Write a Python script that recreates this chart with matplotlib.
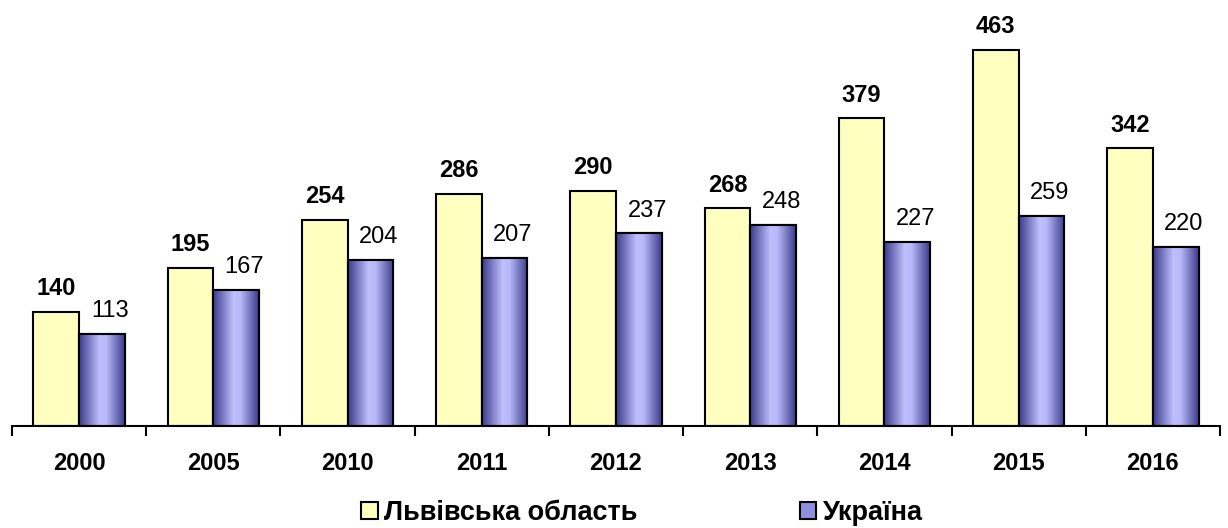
import numpy as np
import matplotlib.pyplot as plt
from matplotlib.colors import LinearSegmentedColormap
from matplotlib.patches import Rectangle

plt.rcParams['font.family'] = ['Liberation Sans', 'DejaVu Sans']

years = ['2000', '2005', '2010', '2011', '2012', '2013', '2014', '2015', '2016']
lviv = [140, 195, 254, 286, 290, 268, 379, 463, 342]
ukraine = [113, 167, 204, 207, 237, 248, 227, 259, 220]

fig = plt.figure(figsize=(12.28, 5.28), dpi=100)
ax = fig.add_axes([12 / 1228, 102.4 / 528, 1208 / 1228, 1 - 102.4 / 528])

x = np.arange(len(years))
w = 0.34
b1 = ax.bar(x - w / 2, lviv, w, color='#ffffc0', edgecolor='black', linewidth=1.5, zorder=2)
b2 = ax.bar(x + w / 2, ukraine, w, color='#b8b8ff', edgecolor='black', linewidth=1.5, zorder=2)

# horizontal gradient on Ukraine bars
cmap = LinearSegmentedColormap.from_list('g', [(0, '#3a3a8a'), (0.45, '#c0c0ff'), (0.6, '#b8b8fa'), (1, '#3a3a8a')])
grad = np.linspace(0, 1, 256).reshape(1, -1)
for r in b2:
    im = ax.imshow(grad, cmap=cmap, aspect='auto', zorder=2.5,
                   extent=[r.get_x(), r.get_x() + r.get_width(), 0, r.get_height()])
    im.set_clip_path(r)
    ax.add_patch(Rectangle((r.get_x(), 0), r.get_width(), r.get_height(),
                           fill=False, edgecolor='black', linewidth=1.5, zorder=3))

for r, v in zip(b1, lviv):
    ax.annotate(str(v), (r.get_x() + r.get_width() / 2, v), xytext=(0, 8.5),
                textcoords='offset points', ha='center', va='bottom',
                fontsize=17, fontweight='bold')
for r, v in zip(b2, ukraine):
    ax.annotate(str(v), (r.get_x() + r.get_width() / 2, v), xytext=(6, 8.5),
                textcoords='offset points', ha='center', va='bottom', fontsize=17)

ax.set_xlim(-0.5, len(years) - 0.5)
ax.set_ylim(0, 525)
ax.set_yticks([])
for s in ['left', 'right', 'top']:
    ax.spines[s].set_visible(False)
ax.spines['bottom'].set_linewidth(1.5)
ax.set_xticks(np.arange(-0.5, len(years)), minor=False)
ax.set_xticklabels([])
ax.tick_params(axis='x', length=7, width=1.5, direction='out')
ax.set_xticks(x, minor=True)
ax.set_xticklabels(years, minor=True, fontsize=17, fontweight='bold')
ax.tick_params(axis='x', which='minor', length=0, pad=19)

h1 = Rectangle((0, 0), 1, 1, facecolor='#ffffc0', edgecolor='black', linewidth=1.5)
h2 = Rectangle((0, 0), 1, 1, facecolor='#9090e0', edgecolor='black', linewidth=1.5)
fig.legend([h1, h2], ['Львівська область', 'Україна'], loc='center', ncol=2,
           bbox_to_anchor=(0.523, 0.028), frameon=False, handlelength=0.6, handleheight=0.6,
           handletextpad=0.25, columnspacing=6.0, borderpad=0.1,
           prop={'size': 19.5, 'weight': 'bold'})

fig.savefig('out.png', dpi=100)
